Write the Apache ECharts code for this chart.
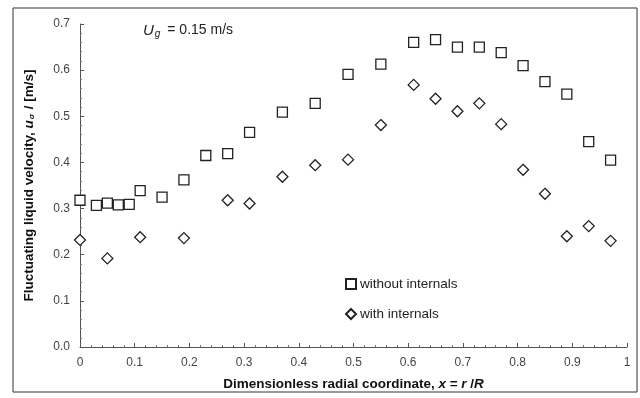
<!DOCTYPE html>
<html>
<head>
<meta charset="utf-8">
<script src="https://cdn.jsdelivr.net/npm/echarts@6/dist/echarts.min.js"></script>
<style>
html,body{margin:0;padding:0;background:#fff;}
#c{width:640px;height:398px;}
</style>
</head>
<body>
<div id="c"></div>
<script>
// Data
var xWithout = [0, 0.03, 0.05, 0.07, 0.09, 0.11, 0.15, 0.19, 0.23, 0.27, 0.31, 0.37, 0.43, 0.49, 0.55, 0.61, 0.65, 0.69, 0.73, 0.77, 0.81, 0.85, 0.89, 0.93, 0.97];
var yWithout = [0.318, 0.307, 0.312, 0.308, 0.309, 0.339, 0.325, 0.362, 0.415, 0.419, 0.465, 0.509, 0.528, 0.591, 0.613, 0.660, 0.666, 0.650, 0.650, 0.638, 0.610, 0.575, 0.548, 0.445, 0.405];
var xWith = [0, 0.05, 0.11, 0.19, 0.27, 0.31, 0.37, 0.43, 0.49, 0.55, 0.61, 0.65, 0.69, 0.73, 0.77, 0.81, 0.85, 0.89, 0.93, 0.97];
var yWith = [0.232, 0.192, 0.238, 0.236, 0.318, 0.311, 0.369, 0.394, 0.406, 0.481, 0.568, 0.538, 0.511, 0.528, 0.483, 0.384, 0.332, 0.240, 0.262, 0.230];
var seriesNames = ['without internals', 'with internals'];

function pairs(xs, ys){ return xs.map(function(x,i){ return [x, ys[i]]; }); }

var FONT = '"Liberation Sans", Arial, sans-serif';
var chart = echarts.init(document.getElementById('c'), null, {renderer:'canvas'});
var option = {
  backgroundColor: '#fff',
  animation: false,
  textStyle: {fontFamily: FONT},
  grid: {left: 80, right: 13, top: 24, bottom: 51, containLabel: false},
  xAxis: {
    type: 'value', min: 0, max: 1, interval: 0.1,
    name: 'Dimensionless radial coordinate, {i|x} = {i|r} /{i|R}',
    nameLocation: 'middle', nameGap: 30,
    nameTextStyle: {
      fontFamily: FONT, fontSize: 13.5, fontWeight: 'bold', color: '#111',
      rich: {i: {fontFamily: FONT, fontSize: 13.5, fontWeight: 'bold', fontStyle: 'italic', color: '#111'}}
    },
    axisLine: {lineStyle: {color: '#555', width: 1}},
    axisTick: {inside: true, length: 4, lineStyle: {color: '#555'}},
    minorTick: {show: true, splitNumber: 5, length: 2, lineStyle: {color: '#777'}},
    splitLine: {show: false},
    axisLabel: {
      color: '#444', fontSize: 12, margin: 10, fontFamily: FONT,
      formatter: function(v){ if (v === 0) return '0'; if (Math.abs(v-1) < 1e-9) return '1'; return v.toFixed(1); }
    }
  },
  yAxis: {
    type: 'value', min: 0, max: 0.7, interval: 0.1,
    name: 'Fluctuating liquid velocity, {i|u}{s|σ} / [m/s]',
    nameLocation: 'middle', nameGap: 44, nameRotate: 90,
    nameTextStyle: {
      fontFamily: FONT, fontSize: 13.5, fontWeight: 'bold', color: '#111',
      rich: {
        i: {fontFamily: FONT, fontSize: 13.5, fontWeight: 'bold', fontStyle: 'italic', color: '#111'},
        s: {fontFamily: FONT, fontSize: 8, fontStyle: 'italic', color: '#111', verticalAlign: 'bottom', padding: [6,1,0,1]}
      }
    },
    axisLine: {show: true, lineStyle: {color: '#555', width: 1}},
    axisTick: {show: true, inside: true, length: 4, lineStyle: {color: '#555'}},
    minorTick: {show: true, splitNumber: 5, length: 2, lineStyle: {color: '#777'}},
    splitLine: {show: false},
    axisLabel: {color: '#444', fontSize: 12, margin: 10, fontFamily: FONT,
      formatter: function(v){ return v.toFixed(1); }}
  },
  legend: {
    orient: 'vertical', left: 340, top: 272, itemGap: 16,
    itemWidth: 10, itemHeight: 10,
    textStyle: {fontFamily: FONT, fontSize: 13.5, color: '#222', padding: [0,0,0,-1]},
    data: seriesNames
  },
  graphic: [
    {type: 'rect', shape: {x: 13, y: 8, width: 624, height: 384}, style: {fill: 'none', stroke: '#333', lineWidth: 1}, silent: true, z: -1},
    {type: 'text', left: 143, top: 23, style: {
      text: '{i|U}{s|g} = 0.15 m/s',
      font: '14px ' + FONT, fill: '#222',
      rich: {
        i: {fontFamily: FONT, fontSize: 15, fontStyle: 'italic', fill: '#222'},
        s: {fontFamily: FONT, fontSize: 10, fontStyle: 'italic', fill: '#222', verticalAlign: 'bottom', padding: [8,3,0,1]}
      }
    }}
  ],
  series: [
    {
      name: seriesNames[0], type: 'scatter', symbol: 'rect', symbolSize: 10,
      itemStyle: {color: '#fff', borderColor: '#222', borderWidth: 1.3, opacity: 1},
      data: pairs(xWithout, yWithout)
    },
    {
      name: seriesNames[1], type: 'scatter', symbol: 'diamond', symbolSize: [11, 11],
      itemStyle: {color: '#fff', borderColor: '#222', borderWidth: 1.3, opacity: 1},
      data: pairs(xWith, yWith)
    }
  ]
};
chart.setOption(option);
</script>
</body>
</html>
